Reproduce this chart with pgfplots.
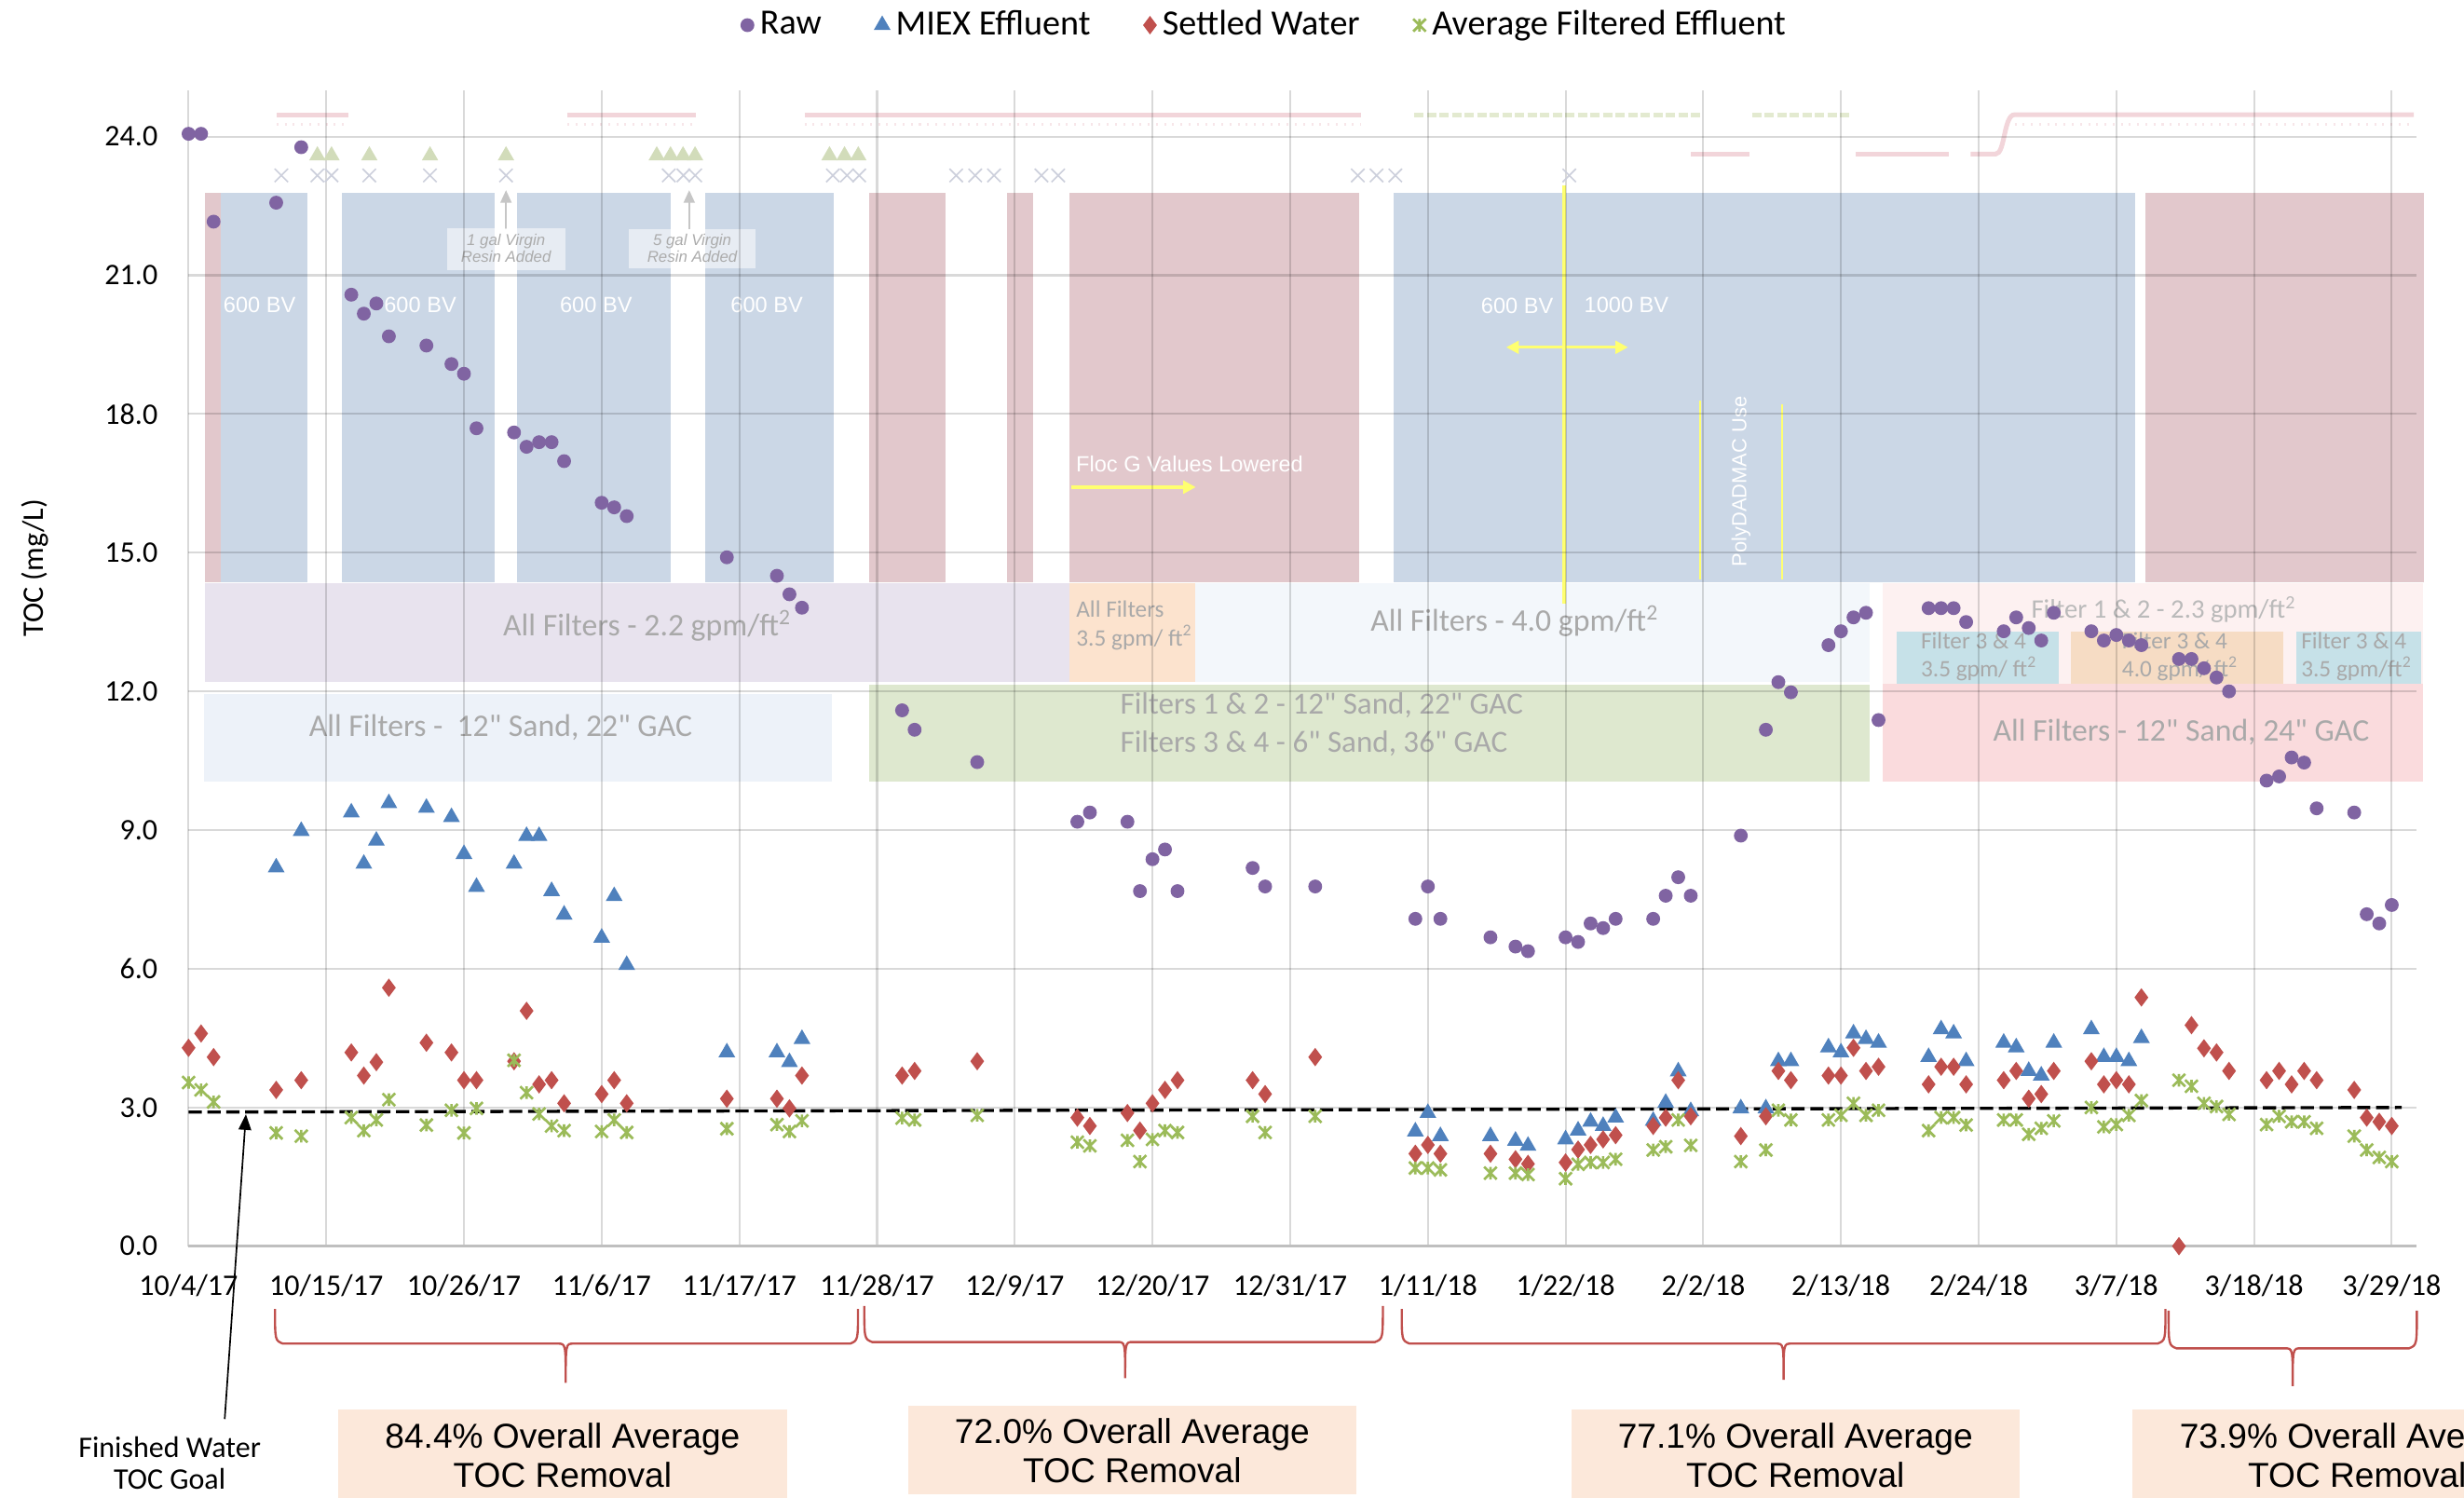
\documentclass[border=0pt]{standalone}
\usepackage{pgfplots}
\pgfplotsset{compat=1.18}
\usepackage{pgfplotstable}
\usepackage{fontspec}
\setmainfont{Carlito}[Ligatures=TeXOff]
\newfontfamily\arialf{Liberation Sans}[Ligatures=TeXOff]
\usetikzlibrary{arrows.meta}

\definecolor{rawc}{HTML}{8064A2}
\definecolor{miexc}{HTML}{4F81BD}
\definecolor{setc}{HTML}{C0504D}
\definecolor{filc}{HTML}{9BBB59}
\definecolor{bblue}{HTML}{CBD7E6}
\definecolor{bred}{HTML}{E2C8CC}
\definecolor{bpurple}{HTML}{E8E3EE}
\definecolor{borange}{HTML}{FCE3CE}
\definecolor{blblue}{HTML}{F3F7FB}
\definecolor{blblue2}{HTML}{EDF2F9}
\definecolor{bgreen}{HTML}{DEE8CF}
\definecolor{bpinkl}{HTML}{FDF1F1}
\definecolor{bpink}{HTML}{FADBDD}
\definecolor{bteal}{HTML}{C6E1E8}
\definecolor{borange2}{HTML}{F6DCC4}
\definecolor{peach}{HTML}{FCE8DA}
\definecolor{yel}{HTML}{FFFF70}
\definecolor{gtext}{HTML}{A9A9A9}
\definecolor{stripred}{HTML}{F2D5DA}
\definecolor{stripgreen}{HTML}{E3EAD0}
\definecolor{decg}{HTML}{D2DCBA}
\definecolor{decx}{HTML}{CDD0DC}

\pgfdeclareplotmark{xstar}{%
  \pgfpathmoveto{\pgfqpoint{-\pgfplotmarksize}{-\pgfplotmarksize}}%
  \pgfpathlineto{\pgfqpoint{\pgfplotmarksize}{\pgfplotmarksize}}%
  \pgfpathmoveto{\pgfqpoint{-\pgfplotmarksize}{\pgfplotmarksize}}%
  \pgfpathlineto{\pgfqpoint{\pgfplotmarksize}{-\pgfplotmarksize}}%
  \pgfpathmoveto{\pgfqpoint{0pt}{-\pgfplotmarksize}}%
  \pgfpathlineto{\pgfqpoint{0pt}{\pgfplotmarksize}}%
  \pgfusepathqstroke}

\pgfplotsset{ser/.style={only marks,
  legend image code/.code={\draw[mark repeat=2,mark phase=2,##1] plot coordinates {(0cm,0cm) (0.1cm,0cm) (0.2cm,0cm)};}}}

% day 0 = 10/4/17
\pgfplotstableread{
day toc
0 24.06
1 24.06
2 22.16
7 22.57
9 23.77
13 20.58
14 20.17
15 20.39
16 19.68
19 19.48
21 19.08
22 18.87
23 17.69
26 17.60
27 17.29
28 17.39
29 17.39
30 16.98
33 16.08
34 15.98
35 15.79
43 14.90
47 14.50
48 14.10
49 13.81
57 11.59
58 11.17
63 10.47
71 9.18
72 9.38
75 9.18
76 7.68
77 8.37
78 8.58
79 7.68
85 8.18
86 7.78
90 7.78
98 7.08
99 7.78
100 7.08
104 6.68
106 6.48
107 6.38
110 6.68
111 6.58
112 6.98
113 6.88
114 7.08
117 7.08
118 7.58
119 7.98
120 7.58
124 8.88
126 11.17
127 12.20
128 11.98
131 13.00
132 13.30
133 13.60
134 13.70
135 11.38
139 13.80
140 13.80
141 13.80
142 13.50
145 13.30
146 13.60
147 13.37
148 13.10
149 13.70
152 13.30
153 13.10
154 13.22
155 13.10
156 13.00
159 12.70
160 12.70
161 12.50
162 12.30
163 12.00
166 10.07
167 10.16
168 10.57
169 10.46
170 9.47
173 9.38
174 7.18
175 6.98
176 7.38
}\rawdata

\pgfplotstableread{
day toc
7 8.19
9 8.98
13 9.38
14 8.27
15 8.77
16 9.58
19 9.48
21 9.28
22 8.48
23 7.77
26 8.27
27 8.87
28 8.87
29 7.68
30 7.17
33 6.67
34 7.57
35 6.08
43 4.19
47 4.19
48 3.98
49 4.48
98 2.48
99 2.88
100 2.38
104 2.38
106 2.28
107 2.17
110 2.31
111 2.50
112 2.69
113 2.60
114 2.78
117 2.71
118 3.10
119 3.78
120 2.92
124 2.98
126 2.98
127 4.00
128 4.00
131 4.30
132 4.19
133 4.60
134 4.48
135 4.40
139 4.09
140 4.69
141 4.60
142 4.00
145 4.40
146 4.30
147 3.79
148 3.69
149 4.40
152 4.69
153 4.09
154 4.09
155 4.00
156 4.50
}\miexdata

\pgfplotstableread{
day toc
0 4.29
1 4.60
2 4.09
7 3.38
9 3.59
13 4.19
14 3.69
15 3.98
16 5.59
19 4.40
21 4.19
22 3.59
23 3.59
26 4.00
27 5.09
28 3.50
29 3.59
30 3.09
33 3.29
34 3.59
35 3.09
43 3.19
47 3.19
48 2.98
49 3.69
57 3.69
58 3.79
63 4.00
71 2.78
72 2.60
75 2.88
76 2.50
77 3.09
78 3.38
79 3.59
85 3.59
86 3.29
90 4.09
98 2.00
99 2.19
100 2.00
104 2.00
106 1.88
107 1.78
110 1.81
111 2.09
112 2.19
113 2.31
114 2.40
117 2.60
118 2.78
119 3.59
120 2.81
124 2.38
126 2.81
127 3.79
128 3.59
131 3.69
132 3.69
133 4.29
134 3.79
135 3.88
139 3.50
140 3.88
141 3.88
142 3.50
145 3.59
146 3.79
147 3.19
148 3.29
149 3.79
152 4.00
153 3.50
154 3.59
155 3.50
156 5.38
159 0.00
160 4.78
161 4.28
162 4.19
163 3.79
166 3.59
167 3.79
168 3.50
169 3.79
170 3.59
173 3.38
174 2.78
175 2.69
176 2.60
}\settleddata

\pgfplotstableread{
day toc
0 3.54
1 3.38
2 3.12
7 2.45
9 2.38
13 2.78
14 2.50
15 2.73
16 3.17
19 2.62
21 2.94
22 2.45
23 2.98
26 4.02
27 3.32
28 2.86
29 2.60
30 2.50
33 2.48
34 2.73
35 2.46
43 2.54
47 2.63
48 2.48
49 2.71
57 2.77
58 2.73
63 2.83
71 2.25
72 2.17
75 2.29
76 1.83
77 2.31
78 2.50
79 2.46
85 2.81
86 2.46
90 2.81
98 1.69
99 1.69
100 1.65
104 1.58
106 1.58
107 1.55
110 1.46
111 1.77
112 1.81
113 1.81
114 1.88
117 2.08
118 2.15
119 2.73
120 2.18
124 1.83
126 2.08
127 2.94
128 2.73
131 2.73
132 2.83
133 3.09
134 2.83
135 2.94
139 2.50
140 2.78
141 2.78
142 2.62
145 2.73
146 2.73
147 2.42
148 2.55
149 2.71
152 3.00
153 2.58
154 2.63
155 2.83
156 3.15
159 3.59
160 3.46
161 3.09
162 3.02
163 2.85
166 2.63
167 2.81
168 2.69
169 2.69
170 2.55
173 2.38
174 2.08
175 1.92
176 1.83
}\filtereddata

\newcommand\brc[6]{\draw[setc, line width=0.7pt] (#1,#4) .. controls (#1,#5-2) .. (#1+5,#5) -- (#3-5,#5) .. controls (#3,#5) .. (#3,#6) .. controls (#3,#5) .. (#3+5,#5) -- (#2-5,#5) .. controls (#2,#5-2) .. (#2,#4);}

\begin{document}
\begin{tikzpicture}[px/.style={x=0.5pt,y=-0.5pt,shift={(-120,-793)}},
  gtxt/.style={text=gtext, inner sep=0pt},
  wtxt/.style={text=white, inner sep=0pt, font=\arialf\fontsize{7}{8}\selectfont}]
\path[use as bounding box] (-60pt,-80pt) rectangle (724pt,396.5pt);
\begin{scope}[px]
% upper band: MIEX periods
\fill[bred] (130.6,122.5) rectangle (140.3,370.5);
\fill[bblue] (140.3,122.5) rectangle (195.6,370.5);
\fill[bblue] (217.6,122.5) rectangle (315,370.5);
\fill[bblue] (329.3,122.5) rectangle (427,370.5);
\fill[bblue] (448.7,122.5) rectangle (530.5,370.5);
\fill[bred] (553,122.5) rectangle (601.5,370.5);
\fill[bred] (640.8,122.5) rectangle (657.4,370.5);
\fill[bred] (680.8,122.5) rectangle (864.7,370.5);
\fill[bblue] (886.8,122.5) rectangle (1358.6,370.5);
\fill[bred] (1365.5,122.5) rectangle (1542.3,370.5);
% middle band: filter rates
\fill[bpurple] (130.5,371) rectangle (680.8,434);
\fill[borange] (680.8,371) rectangle (760.3,434);
\fill[blblue] (760.3,371) rectangle (1190,434);
\fill[bpinkl] (1198,371) rectangle (1542,435);
\fill[bteal] (1207,402) rectangle (1310,435);
\fill[borange2] (1318,402) rectangle (1453,435);
\fill[bteal] (1461,402) rectangle (1541,435);
% lower band: media
\fill[blblue2] (130,441.6) rectangle (529.5,497.5);
\fill[bgreen] (553,435.7) rectangle (1190,497.5);
\fill[bpink] (1198,435) rectangle (1542,497.5);
% top strip
\draw[stripred, line width=1.5pt] (176,73) -- (222,73) (361,73) -- (443,73) (512,73) -- (866,73);
\draw[stripred, line width=1.5pt] (1076,98) -- (1113,98) (1181,98) -- (1240,98);
\draw[stripred, line width=1.5pt] (1254,98) -- (1270,98) .. controls (1276,98) and (1275,73) .. (1282,73) -- (1536,73);
\draw[stripred!60, line width=0.8pt, dash pattern=on 0.6pt off 2pt] (176,79) -- (222,79) (361,79) -- (443,79) (512,79) -- (866,79) (1282,79) -- (1536,79);
\draw[stripgreen, line width=1.5pt, dash pattern=on 3pt off 1pt] (900,73) -- (1083,73) (1115,73) -- (1178,73);
% annotations in the bands
\draw[yel, line width=1.2pt] (995.6,118) -- (995.6,384);
\draw[yel, line width=1pt, {Triangle[length=4pt,width=4pt]}-{Triangle[length=4pt,width=4pt]}] (958.5,221) -- (1036,221);
\draw[yel, line width=1pt, -{Triangle[length=4pt,width=4pt]}] (681.7,310) -- (761,310);
\draw[yel, line width=0.6pt] (1082,255) -- (1082,369) (1134,257) -- (1134,369);
\draw[gray!45, line width=0.6pt, -{Triangle[length=4pt,width=3.5pt]}] (322,146) -- (322,121);
\draw[gray!45, line width=0.6pt, -{Triangle[length=4pt,width=3.5pt]}] (438.6,146) -- (438.6,121);
\fill[white, opacity=0.55] (284.5,145) rectangle (360,172);
\fill[white, opacity=0.55] (400,146) rectangle (481,171);
\node[text=gray!65, align=center, font=\arialf\itshape\fontsize{5}{5.5}\selectfont] at (322,158) {1 gal Virgin\\Resin Added};
\node[text=gray!65, align=center, font=\arialf\itshape\fontsize{5}{5.5}\selectfont] at (440.5,158) {5 gal Virgin\\Resin Added};
\node[wtxt] at (165.2,194.3) {600 BV};
\node[wtxt] at (267.4,194.3) {600 BV};
\node[wtxt] at (379.3,194.3) {600 BV};
\node[wtxt] at (488,194.3) {600 BV};
\node[wtxt] at (965.5,194.9) {600 BV};
\node[wtxt] at (1035,194.3) {1000 BV};
\node[wtxt] at (757,295.4) {Floc G Values Lowered};
\node[wtxt, rotate=90, font=\arialf\fontsize{6.5}{7}\selectfont] at (1108,306.5) {PolyDADMAC Use};
\node[gtxt, font=\fontsize{10}{12}\selectfont] at (412,398) {All Filters - 2.2 gpm/ft\textsuperscript{2}};
\node[gtxt, anchor=west, align=left, font=\fontsize{7.5}{9}\selectfont] at (684.5,398) {All Filters\\3.5 gpm/ ft\textsuperscript{2}};
\node[gtxt, font=\fontsize{10}{12}\selectfont] at (964,395.4) {All Filters - 4.0 gpm/ft\textsuperscript{2}};
\node[gtxt, text=gtext!80, font=\fontsize{8.5}{10}\selectfont] at (1377,388) {Filter 1 \& 2 - 2.3 gpm/ft\textsuperscript{2}};
\node[gtxt, anchor=west, align=left, font=\fontsize{7.5}{9}\selectfont] at (1222,418) {Filter 3 \& 4\\3.5 gpm/ ft\textsuperscript{2}};
\node[gtxt, anchor=west, align=left, font=\fontsize{7.5}{9}\selectfont] at (1350,418) {Filter 3 \& 4\\4.0 gpm/ ft\textsuperscript{2}};
\node[gtxt, anchor=west, align=left, font=\fontsize{7.5}{9}\selectfont] at (1464,418) {Filter 3 \& 4\\3.5 gpm/ft\textsuperscript{2}};
\node[gtxt, font=\fontsize{10}{12}\selectfont] at (318.6,463) {All Filters -\ \ 12" Sand, 22" GAC};
\node[gtxt, anchor=west, align=left, font=\fontsize{9.8}{12}\selectfont] at (712.5,461) {Filters 1 \& 2 - 12" Sand, 22" GAC\\Filters 3 \& 4 - 6" Sand, 36" GAC};
\node[gtxt, font=\fontsize{10}{12}\selectfont] at (1388,466) {All Filters - 12" Sand, 24" GAC};
\end{scope}

\begin{axis}[
  anchor=south west, at={(0pt,0pt)},
  x=3.983pt, y=14.71pt,
  xmin=0, xmax=178, ymin=0, ymax=25,
  clip=false,
  axis line style={draw=none},
  major tick length=0pt,
  grid=major,
  major grid style={black, opacity=0.15, line width=0.6pt},
  xtick={0,11,...,176},
  xticklabels={10/4/17,10/15/17,10/26/17,11/6/17,11/17/17,11/28/17,12/9/17,12/20/17,12/31/17,1/11/18,1/22/18,2/2/18,2/13/18,2/24/18,3/7/18,3/18/18,3/29/18},
  ytick={0,3,...,24},
  tick label style={font=\fontsize{9.5}{11}\selectfont},
  x tick label style={yshift=-5.5pt},
  y tick label style={xshift=-6.3pt, /pgf/number format/fixed, /pgf/number format/fixed zerofill, /pgf/number format/precision=1, /pgf/number format/assume math mode=true},
  legend columns=4,
  legend style={at={(0.4838,1.0564)}, anchor=center, draw=none, fill=none,
    font=\fontsize{11.3}{13}\selectfont,
    /tikz/every even column/.append style={column sep=15pt}},
]
% x axis line
\draw[gray!50, line width=1pt] (axis cs:0,0) -- (axis cs:178,0);
% faint event markers above the 24.0 line
\addplot[only marks, mark=triangle*, mark size=2.6pt, color=decg, forget plot] coordinates {
(10.29,23.59) (11.42,23.59) (14.44,23.59) (19.29,23.59) (25.36,23.59) (37.4,23.59)
(38.5,23.59) (39.5,23.59) (40.46,23.59) (51.2,23.59) (52.4,23.59) (53.5,23.59)};
\addplot[only marks, mark=x, mark size=3pt, color=decx, mark options={line width=0.5pt}, forget plot] coordinates {
(7.41,23.16) (10.29,23.16) (11.42,23.16) (14.44,23.16) (19.28,23.16) (25.36,23.16)
(38.36,23.16) (39.53,23.16) (40.47,23.16) (51.47,23.16) (52.6,23.16) (53.57,23.16)
(61.32,23.16) (62.84,23.16) (64.34,23.16) (68.13,23.16) (69.47,23.16)
(93.4,23.16) (94.9,23.16) (96.4,23.16) (110.3,23.16)};
% finished water TOC goal
\addplot[black, line width=1pt, dash pattern=on 4.2pt off 1.8pt, forget plot] coordinates {(0,2.9) (176.8,3.0)};
\addplot[ser, mark=*, mark size=2pt, color=rawc] table {\rawdata};
\addlegendentry{Raw}
\addplot[ser, mark=triangle*, mark size=2.7pt, color=miexc] table {\miexdata};
\addlegendentry{MIEX Effluent}
\addplot[ser, mark=diamond*, mark size=2.6pt, color=setc] table {\settleddata};
\addlegendentry{Settled Water}
\addplot[ser, mark=xstar, mark size=2pt, color=filc, mark options={line width=0.8pt}] table {\filtereddata};
\addlegendentry{Average Filtered Effluent}
\end{axis}

\begin{scope}[px]
\node[rotate=90, font=\fontsize{9.5}{11}\selectfont] at (22,361.5) {TOC (mg/L)};
\brc{175}{546}{360}{833}{855}{880}
\brc{550}{880}{716}{831}{854}{877}
\brc{892}{1378}{1135}{833}{855}{878}
\brc{1380}{1538}{1459}{834}{858}{882}
\fill[peach] (215,897) rectangle (501,960);
\fill[peach] (578,894.5) rectangle (863,951);
\fill[peach] (1000,897) rectangle (1285,960);
\fill[peach] (1357,897) rectangle (1643,960);
\node[align=center, font=\arialf\fontsize{11}{12.35}\selectfont] at (358,926) {84.4\% Overall Average\\TOC Removal};
\node[align=center, font=\arialf\fontsize{11}{12.35}\selectfont] at (720.5,923.2) {72.0\% Overall Average\\TOC Removal};
\node[align=center, font=\arialf\fontsize{11}{12.35}\selectfont] at (1142.5,926) {77.1\% Overall Average\\TOC Removal};
\node[align=center, font=\arialf\fontsize{11}{12.35}\selectfont] at (1500,926) {73.9\% Overall Average\\TOC Removal};
\node[align=center, font=\fontsize{9.5}{10}\selectfont] at (108,931) {Finished Water\\TOC Goal};
\draw[black, line width=0.5pt, -{Triangle[length=5pt,width=4pt]}] (143,903) -- (156.5,709);
\end{scope}
\end{tikzpicture}
\end{document}
